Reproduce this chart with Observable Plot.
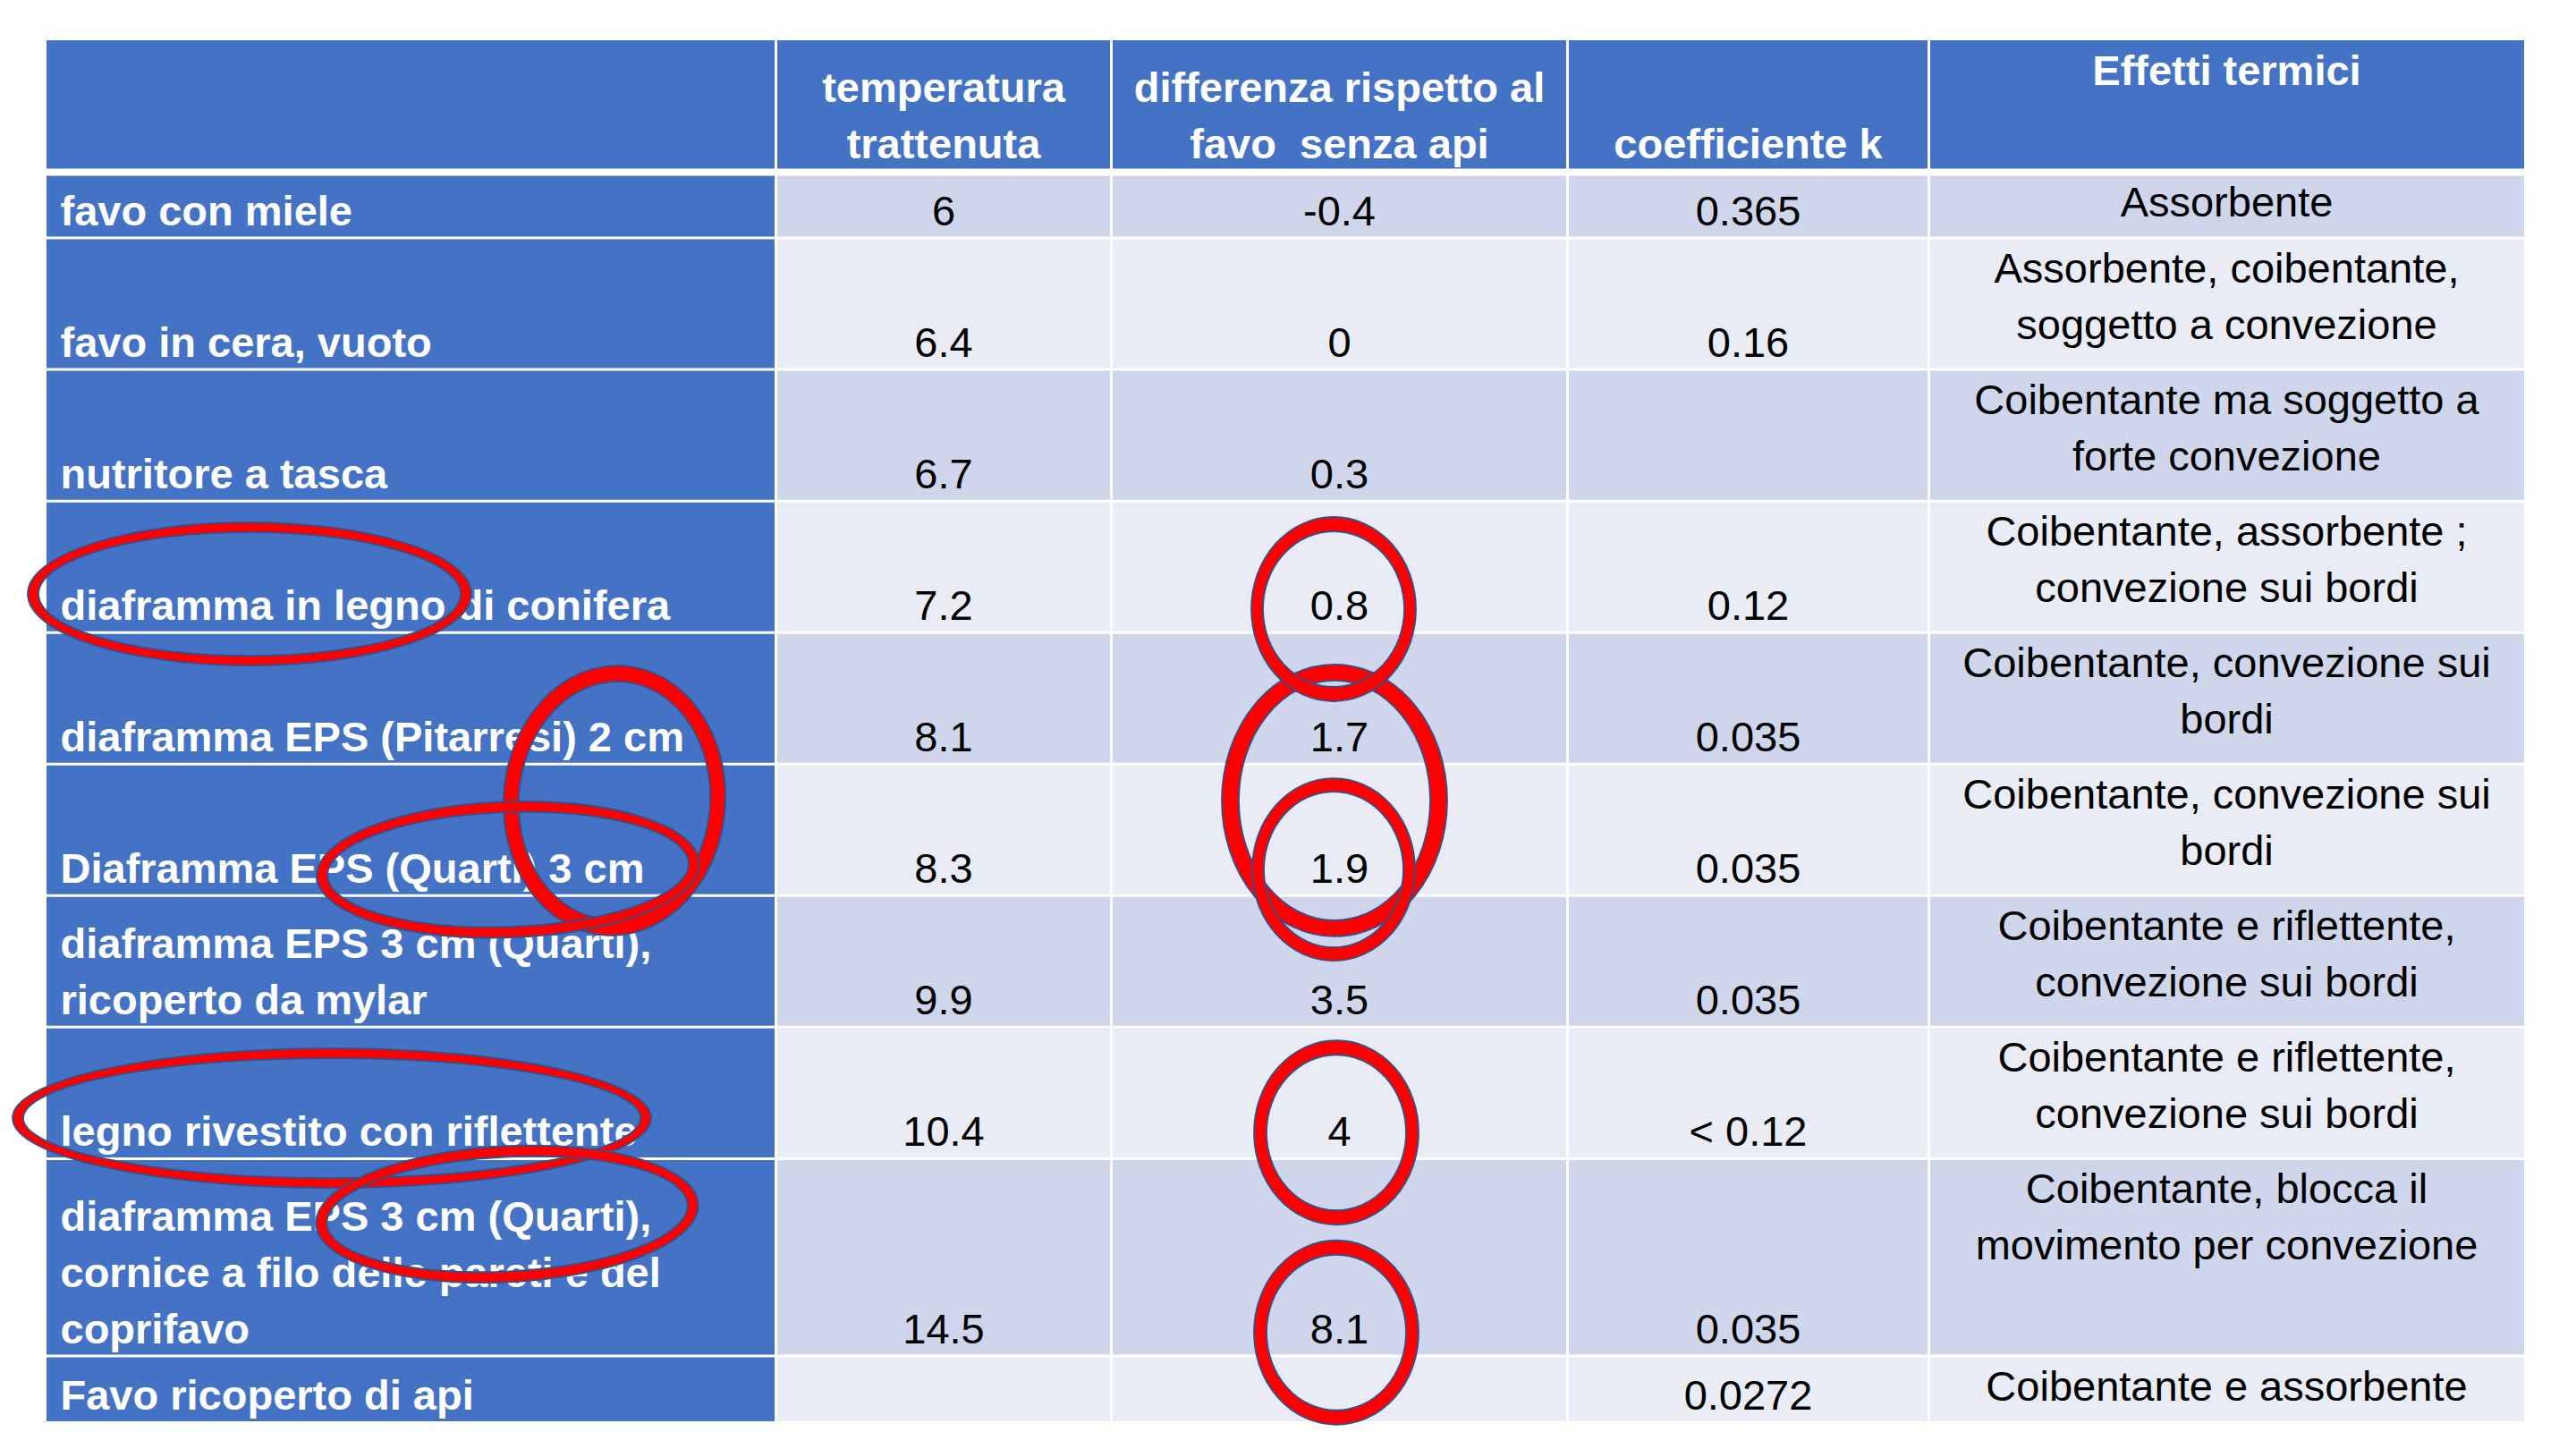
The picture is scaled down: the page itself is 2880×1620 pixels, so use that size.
<!DOCTYPE html>
<html>
<head>
<meta charset="utf-8">
<script src="https://cdn.jsdelivr.net/npm/d3@7"></script>
<script src="https://cdn.jsdelivr.net/npm/@observablehq/plot@0.6"></script>
<style>
  html, body { margin: 0; padding: 0; background: #ffffff; overflow: hidden; }
  #chart svg { display: block; }
  #chart text { white-space: pre; }
</style>
</head>
<body>
<div id="chart"></div>
<script>
// ---------------- DATA ----------------
const headers = ["", "temperatura\ntrattenuta", "differenza rispetto al\nfavo  senza api", "coefficiente k", "Effetti termici"];

const materiali = [
  "favo con miele",
  "favo in cera, vuoto",
  "nutritore a tasca",
  "diaframma in legno di conifera",
  "diaframma EPS (Pitarresi) 2 cm",
  "Diaframma EPS (Quarti) 3 cm",
  "diaframma EPS 3 cm (Quarti),\nricoperto da mylar",
  "legno rivestito con riflettente",
  "diaframma EPS 3 cm (Quarti),\ncornice a filo delle pareti e del\ncoprifavo",
  "Favo ricoperto di api"
];

const temperatura = [6, 6.4, 6.7, 7.2, 8.1, 8.3, 9.9, 10.4, 14.5, null];
const differenza = [-0.4, 0, 0.3, 0.8, 1.7, 1.9, 3.5, 4, 8.1, null];
const coefficienteK = ["0.365", "0.16", "", "0.12", "0.035", "0.035", "0.035", "< 0.12", "0.035", "0.0272"];

const effetti = [
  "Assorbente",
  "Assorbente, coibentante,\nsoggetto a convezione",
  "Coibentante ma soggetto a\nforte convezione",
  "Coibentante, assorbente ;\nconvezione sui bordi",
  "Coibentante, convezione sui\nbordi",
  "Coibentante, convezione sui\nbordi",
  "Coibentante e riflettente,\nconvezione sui bordi",
  "Coibentante e riflettente,\nconvezione sui bordi",
  "Coibentante, blocca il\nmovimento per convezione",
  "Coibentante e assorbente"
];

// hand-drawn red ellipses (annotation layer): centre in table units (x: px from table left, y: text lines)
const cerchi = [
  {cx: 227,  cy: 8.42,  rx: 248, ry: 80,  ts: 12, tv: 11, rot: 0},
  {cx: 635,  cy: 11.56, rx: 124, ry: 151, ts: 17, tv: 18, rot: 4},
  {cx: 516,  cy: 12.61, rx: 214, ry: 76,  ts: 12, tv: 12, rot: -2},
  {cx: 319,  cy: 16.39, rx: 357, ry: 78,  ts: 12, tv: 11, rot: 0},
  {cx: 515,  cy: 17.85, rx: 214, ry: 76,  ts: 12, tv: 12, rot: -3},
  {cx: 1440, cy: 11.56, rx: 126, ry: 152, ts: 19, tv: 18, rot: 0},
  {cx: 1439, cy: 8.65,  rx: 92,  ry: 103, ts: 13, tv: 16, rot: 0},
  {cx: 1439, cy: 12.61, rx: 91,  ry: 102, ts: 13, tv: 15, rot: 0},
  {cx: 1442, cy: 16.61, rx: 92,  ry: 103, ts: 14, tv: 16, rot: 0},
  {cx: 1442, cy: 19.65, rx: 92,  ry: 103, ts: 14, tv: 16, rot: 0}
];

// ---------------- LAYOUT ----------------
const W = 2880, H = 1620;
const colWidths = [815, 375, 510, 404, 666];
const tableLeft = 52, tableTop = 45, tableBottom = 1589;
const FONT = 47, LINE_PX = 63;
const FAMILY = "'Liberation Sans', Arial, sans-serif";
const BLUE = "#4472C4", DARK = "#CFD5EA", LIGHT = "#E9EBF5";
const RED = "#FF0000", NAVY = "#2F528F";

const nLines = s => (s == null || s === "") ? 1 : String(s).split("\n").length;
const headerLines = d3.max(headers, nLines);
const rowLines = materiali.map((m, i) => Math.max(nLines(m), nLines(effetti[i])));
const bounds = [0, headerLines];
rowLines.forEach(n => bounds.push(bounds[bounds.length - 1] + n));
const totalLines = bounds[bounds.length - 1];
const colEdges = [0];
colWidths.forEach(w => colEdges.push(colEdges[colEdges.length - 1] + w));
const tableW = colEdges[colEdges.length - 1];
const colMid = c => (colEdges[c] + colEdges[c + 1]) / 2;

const nRows = bounds.length - 1;
const cells = [];
for (let r = 0; r < nRows; ++r) {
  for (let c = 0; c < colWidths.length; ++c) {
    cells.push({
      x1: colEdges[c], x2: colEdges[c + 1], y1: bounds[r], y2: bounds[r + 1],
      fill: (r === 0 || c === 0) ? BLUE : (r % 2 === 1 ? DARK : LIGHT)
    });
  }
}

const rows = materiali.map((m, i) => ({
  materiale: m,
  temperatura: temperatura[i],
  differenza: differenza[i],
  k: coefficienteK[i],
  effetto: effetti[i],
  top: bounds[i + 1],
  bottom: bounds[i + 2]
}));
const fmt = v => v == null ? "" : String(v);

const hRules = bounds.slice(1, -1).map((b, i) => ({y: b, w: i === 0 ? 8 : 3}));
const vRules = colEdges.slice(1, -1);

function ringPath(d) {
  const e = (a, b) => `M${-a},0A${a},${b} 0 1,0 ${a},0A${a},${b} 0 1,0 ${-a},0Z`;
  return e(d.rx, d.ry) + e(d.rx - d.ts, d.ry - d.tv);
}

const ellipseMark = (index, scales) => {
  const g = d3.create("svg:g");
  for (const d of cerchi) {
    g.append("path")
      .attr("d", ringPath(d))
      .attr("transform", `translate(${scales.x(d.cx)},${scales.y(d.cy)}) rotate(${d.rot})`)
      .attr("fill", RED)
      .attr("fill-rule", "evenodd")
      .attr("stroke", NAVY)
      .attr("stroke-width", 1.8);
  }
  return g.node();
};

const common = {fontSize: FONT, fontFamily: FAMILY, lineHeight: LINE_PX / FONT};

const chart = Plot.plot({
  width: W,
  height: H,
  margin: 0,
  x: {domain: [0, tableW], range: [tableLeft, tableLeft + tableW], axis: null},
  y: {domain: [0, totalLines], range: [tableTop, tableBottom], axis: null},
  color: {type: "identity"},
  style: {background: "#ffffff", fontFamily: FAMILY},
  marks: [
    Plot.rect(cells, {x1: "x1", x2: "x2", y1: "y1", y2: "y2", fill: "fill"}),
    Plot.ruleY(hRules, {y: "y", x1: 0, x2: tableW, stroke: "#ffffff", strokeWidth: d => d.w}),
    Plot.ruleX(vRules, {x: d => d, y1: 0, y2: totalLines, stroke: "#ffffff", strokeWidth: 3}),
    // header (bottom-aligned)
    Plot.text([1, 2, 3], {
      x: c => colMid(c), y: bounds[1], text: c => headers[c],
      textAnchor: "middle", lineAnchor: "bottom", dy: -16,
      fill: "#ffffff", fontWeight: "bold", ...common
    }),
    // header (top-aligned)
    Plot.text([4], {
      x: c => colMid(c), y: 0, text: c => headers[c],
      textAnchor: "middle", lineAnchor: "top", dy: 5,
      fill: "#ffffff", fontWeight: "bold", ...common
    }),
    // row labels
    Plot.text(rows, {
      x: colEdges[0], y: "bottom", text: "materiale",
      textAnchor: "start", lineAnchor: "bottom", dx: 15, dy: -14,
      fill: "#ffffff", fontWeight: "bold", ...common
    }),
    Plot.text(rows, {
      x: colMid(1), y: "bottom", text: d => fmt(d.temperatura),
      textAnchor: "middle", lineAnchor: "bottom", dy: -14, fill: "#000000", ...common
    }),
    Plot.text(rows, {
      x: colMid(2), y: "bottom", text: d => fmt(d.differenza),
      textAnchor: "middle", lineAnchor: "bottom", dy: -14, fill: "#000000", ...common
    }),
    Plot.text(rows, {
      x: colMid(3), y: "bottom", text: d => d.k,
      textAnchor: "middle", lineAnchor: "bottom", dy: -14, fill: "#000000", ...common
    }),
    Plot.text(rows, {
      x: colMid(4), y: "top", text: "effetto",
      textAnchor: "middle", lineAnchor: "top", dy: 5, fill: "#000000", ...common
    }),
    ellipseMark
  ]
});

document.getElementById("chart").appendChild(chart);
</script>
</body>
</html>
